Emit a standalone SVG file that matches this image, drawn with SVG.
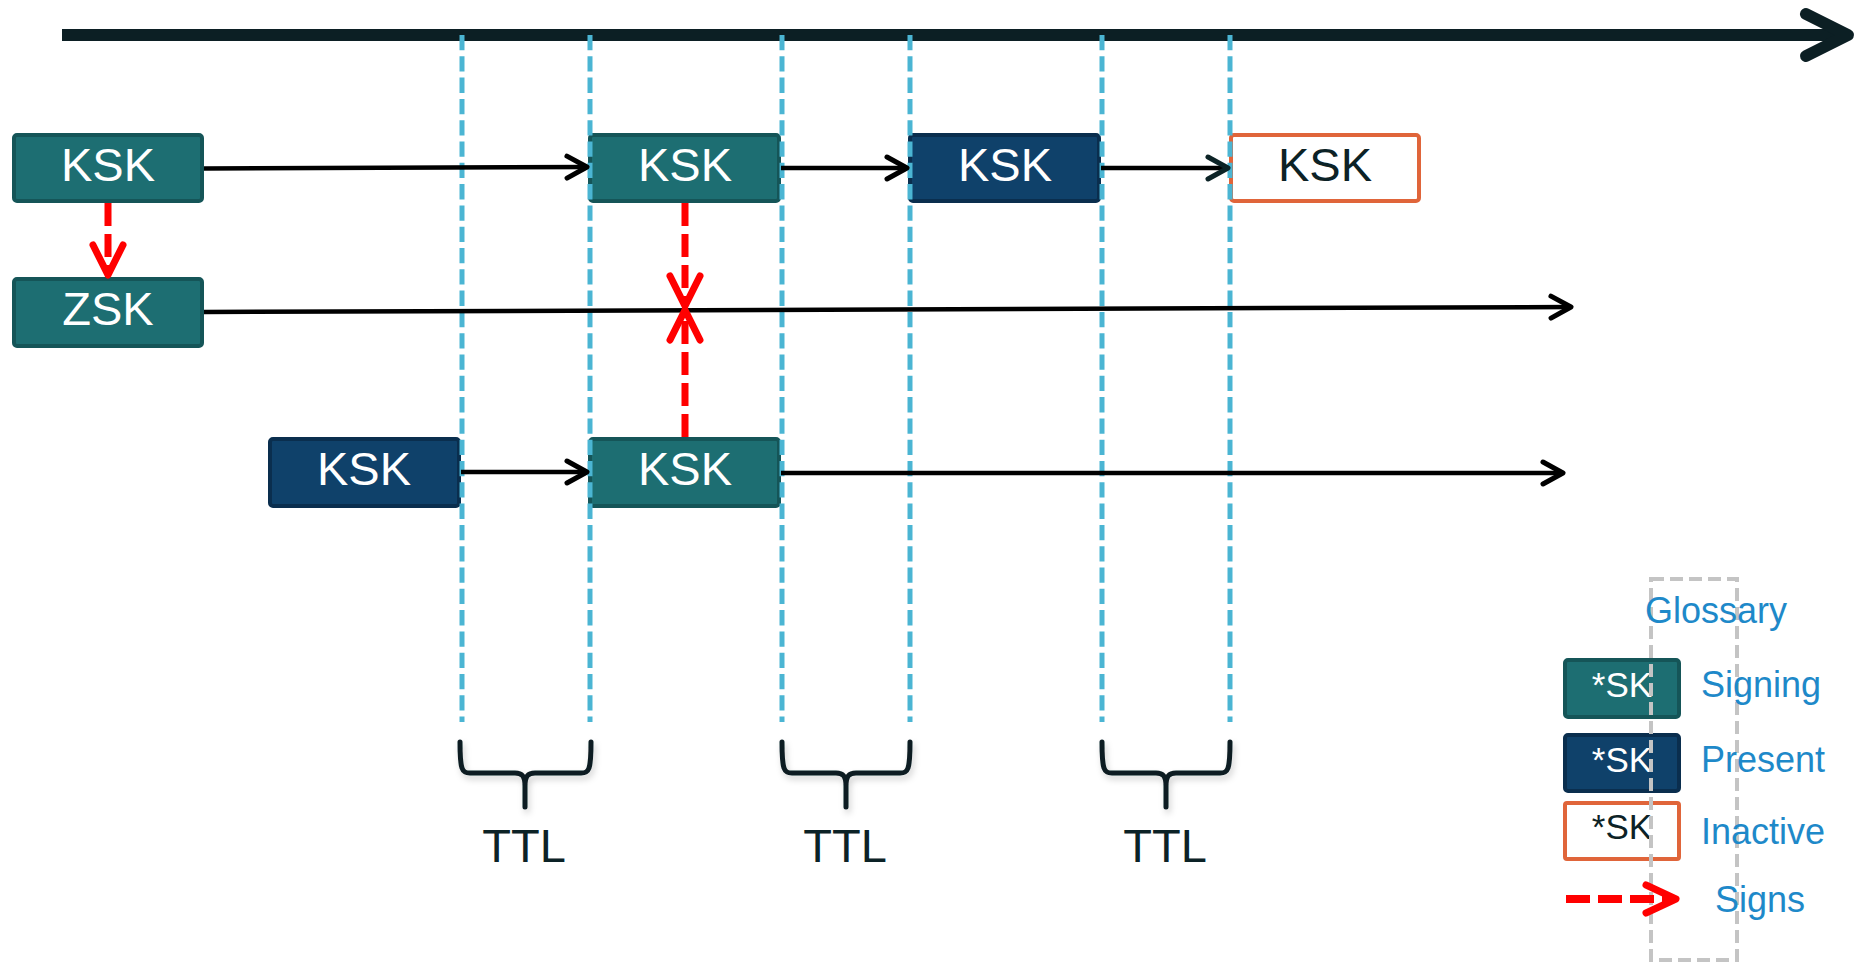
<svg xmlns="http://www.w3.org/2000/svg" width="1860" height="965" viewBox="0 0 1860 965">
<style>
  .txt{font-family:"Liberation Sans",Arial,sans-serif;}
  .nodeTxt{font-family:"Liberation Sans",Arial,sans-serif;font-size:47px;text-anchor:middle;fill:#ffffff;}
  .dark{fill:#0C2226;}
  .sign{fill:#1D6E72;stroke:#155558;stroke-width:4;}
  .pres{fill:#0F416A;stroke:#0A2E4E;stroke-width:4;}
  .inact{fill:#ffffff;stroke:#E0653A;stroke-width:4;}
  .guide{stroke:#4BB5D3;stroke-width:5;stroke-dasharray:15.3 6;fill:none;}
  .conn{stroke:#000;stroke-width:4.5;fill:none;}
  .red{stroke:#FF0000;stroke-width:7;stroke-dasharray:23 8;fill:none;}
  .brace{stroke:#0C1F24;stroke-width:5;fill:none;stroke-linecap:round;stroke-linejoin:round;}
  .gloss{font-family:"Liberation Sans",Arial,sans-serif;font-size:36px;fill:#1E89C9;}
  .leg{font-family:"Liberation Sans",Arial,sans-serif;font-size:35px;text-anchor:middle;}
</style>
<defs>
  <marker id="ah" markerUnits="userSpaceOnUse" viewBox="-26 -16 30 32" refX="0" refY="0" markerWidth="30" markerHeight="32" orient="auto">
    <path d="M-20,-11 L0,0 L-20,11" fill="none" stroke="#000" stroke-width="5" stroke-linecap="round" stroke-linejoin="round"/>
  </marker>
  <marker id="ahd" markerUnits="userSpaceOnUse" viewBox="-26 -16 30 32" refX="0" refY="0" markerWidth="30" markerHeight="32" orient="auto">
    <path d="M-20,-11 L0,0 L-20,11" fill="none" stroke="#0C2326" stroke-width="5" stroke-linecap="round" stroke-linejoin="round"/>
  </marker>
  <marker id="ahr" markerUnits="userSpaceOnUse" viewBox="-36 -22 40 44" refX="0" refY="0" markerWidth="40" markerHeight="44" orient="auto">
    <path d="M-30,-15 L0,0 L-30,15" fill="none" stroke="#FF0000" stroke-width="7" stroke-linecap="round" stroke-linejoin="round"/>
  </marker>
  <filter id="sh" x="-20%" y="-20%" width="140%" height="160%">
    <feDropShadow dx="2" dy="4" stdDeviation="3" flood-color="#000" flood-opacity="0.18"/>
  </filter>
</defs>

<g id="timeline">
  <line x1="62" y1="35" x2="1846" y2="35" stroke="#0C1F24" stroke-width="12"/>
  <path d="M1806,14 L1848,35 L1806,56" fill="none" stroke="#0C1F24" stroke-width="12" stroke-linecap="round" stroke-linejoin="round"/>
</g>

<g id="ksk1"><rect class="sign" x="14" y="135" width="188" height="66" rx="3"/><text class="nodeTxt" x="108" y="181">KSK</text></g>
<g id="zsk"><rect class="sign" x="14" y="279" width="188" height="67" rx="3"/><text class="nodeTxt" x="108" y="325">ZSK</text></g>
<g id="ksk2"><rect class="sign" x="590" y="135" width="189" height="66" rx="3"/><text class="nodeTxt" x="685" y="181">KSK</text></g>
<g id="ksk3"><rect class="pres" x="910" y="135" width="189" height="66" rx="3"/><text class="nodeTxt" x="1005" y="181">KSK</text></g>
<g id="ksk4"><rect class="inact" x="1231" y="135" width="188" height="66" rx="3"/><text class="nodeTxt dark" x="1325" y="181">KSK</text></g>
<g id="ksk5"><rect class="pres" x="270" y="439" width="189" height="67" rx="3"/><text class="nodeTxt" x="364" y="485">KSK</text></g>
<g id="ksk6"><rect class="sign" x="590" y="439" width="189" height="67" rx="3"/><text class="nodeTxt" x="685" y="485">KSK</text></g>

<g id="guides">
  <line class="guide" x1="462" y1="35" x2="462" y2="722"/>
  <line class="guide" x1="590" y1="35" x2="590" y2="722"/>
  <line class="guide" x1="782" y1="35" x2="782" y2="722"/>
  <line class="guide" x1="910" y1="35" x2="910" y2="722"/>
  <line class="guide" x1="1102" y1="35" x2="1102" y2="722"/>
  <line class="guide" x1="1230" y1="35" x2="1230" y2="722"/>
</g>

<g id="connectors">
  <line class="conn" x1="204" y1="168.5" x2="587" y2="167" marker-end="url(#ah)"/>
  <line class="conn" x1="781" y1="168" x2="907" y2="168" marker-end="url(#ah)"/>
  <line class="conn" x1="1101" y1="168" x2="1228" y2="168" stroke="#0C2326" marker-end="url(#ahd)"/>
  <line class="conn" x1="204" y1="312" x2="1571" y2="307" marker-end="url(#ah)"/>
  <line class="conn" x1="461" y1="472" x2="587" y2="472" marker-end="url(#ah)"/>
  <line class="conn" x1="781" y1="473" x2="1563" y2="473" marker-end="url(#ah)"/>
  <line class="red" x1="108" y1="203" x2="108" y2="275" marker-end="url(#ahr)"/>
  <line class="red" x1="685" y1="203" x2="685" y2="306" marker-end="url(#ahr)"/>
  <line class="red" x1="685" y1="437" x2="685" y2="310" marker-end="url(#ahr)"/>
</g>

<g id="ttl1" filter="url(#sh)">
  <path class="brace" d="M460,742 C460,770 462,773 470,773 L515,773 C522,773 525,776 525,786 L525,807 M525,786 C525,776 528,773 535,773 L581,773 C589,773 591,770 591,742"/>
</g>
<g id="ttl2" filter="url(#sh)">
  <path class="brace" d="M782,742 C782,770 784,773 792,773 L836,773 C843,773 846,776 846,786 L846,807 M846,786 C846,776 849,773 856,773 L900,773 C908,773 910,770 910,742"/>
</g>
<g id="ttl3" filter="url(#sh)">
  <path class="brace" d="M1102,742 C1102,770 1104,773 1112,773 L1156,773 C1163,773 1166,776 1166,786 L1166,807 M1166,786 C1166,776 1169,773 1176,773 L1220,773 C1228,773 1230,770 1230,742"/>
</g>
<g id="ttlLabels">
  <text class="nodeTxt dark" x="524" y="862">TTL</text>
  <text class="nodeTxt dark" x="845" y="862">TTL</text>
  <text class="nodeTxt dark" x="1165" y="862">TTL</text>
</g>

<g id="legend">
  <rect class="sign" x="1565" y="660" width="114" height="57" rx="3"/>
  <text class="leg" x="1622" y="697" fill="#ffffff">*SK</text>
  <rect class="pres" x="1565" y="735" width="114" height="56" rx="3"/>
  <text class="leg" x="1622" y="772" fill="#ffffff">*SK</text>
  <rect class="inact" x="1565" y="803" width="114" height="56" rx="2"/>
  <text class="leg" x="1622" y="839" fill="#0C2226">*SK</text>
  <rect x="1651" y="579" width="86" height="381" fill="none" stroke="#C4C4C4" stroke-width="4" stroke-dasharray="13 6"/>
  <text class="gloss" x="1645" y="623">Glossary</text>
  <text class="gloss" x="1701" y="697">Signing</text>
  <text class="gloss" x="1701" y="772">Present</text>
  <text class="gloss" x="1701" y="844">Inactive</text>
  <text class="gloss" x="1715" y="912">Signs</text>
  <line x1="1566" y1="899" x2="1674" y2="899" stroke="#FF0000" stroke-width="8" stroke-dasharray="24 8"/>
  <path d="M1646,885 L1676,899 L1646,913" fill="none" stroke="#FF0000" stroke-width="7" stroke-linecap="round" stroke-linejoin="round"/>
</g>
</svg>
